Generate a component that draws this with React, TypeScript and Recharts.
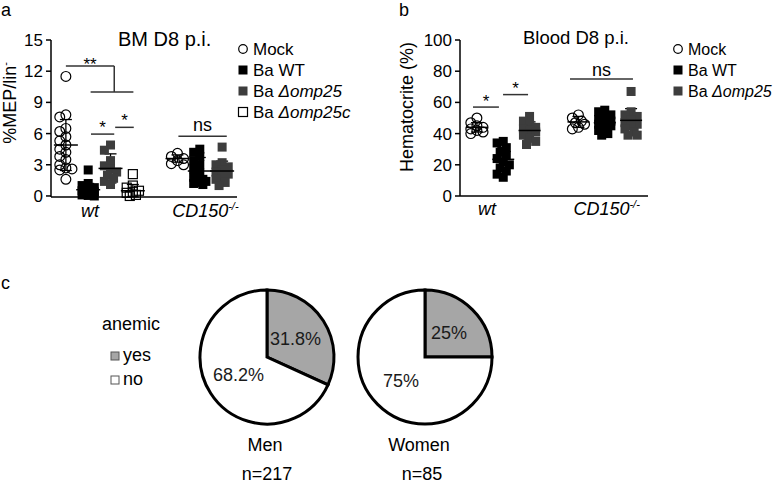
import React from "react";
import {
  ScatterChart,
  Scatter,
  XAxis,
  YAxis,
  ErrorBar,
  ReferenceLine,
  PieChart,
  Pie,
  Cell,
} from "recharts";

const FONT = '"Liberation Sans", Arial, Helvetica, sans-serif';
const INK = "#000";
const DARK = "#3d3d3d";
const BAR = "#333";
const PIE_GREY = "#a6a6a6";

type Kind = "mock" | "wt" | "d25" | "d25c";

// ---------- a: BM D8 p.i. (%MEP/lin-) ----------
const bmTicks = [0, 3, 6, 9, 12, 15];
const bmWtMock = [11.5, 7.8, 7.6, 6.5, 6.2, 5.7, 5.3, 4.9, 4.5, 4.2, 3.8, 3.5, 3.0, 2.7, 2.6, 2.5, 1.6];
const bmWtBaWT = [2.5, 1.2, 1.0, 0.8, 0.6, 0.5, 0.4, 0.3, 0.2, 0.1, 0.05, 0.0];
const bmWtD25 = [4.9, 4.4, 3.4, 2.9, 2.6, 2.3, 2.0, 1.7, 1.4, 1.1];
const bmWtD25c = [2.1, 1.0, 0.8, 0.5, 0.4, 0.3, 0.1, 0.0];
const bmKoMock = [4.1, 3.8, 3.6, 3.4, 3.1, 3.0];
const bmKoBaWT = [4.5, 4.2, 3.8, 3.4, 3.0, 2.6, 2.2, 1.8, 1.6, 1.5, 1.4, 1.3, 1.2, 1.1];
const bmKoD25 = [4.7, 3.2, 3.0, 2.8, 2.5, 2.3, 2.1, 1.9, 1.6, 1.3, 1.0];
const bmMeans = [4.9, 0.6, 2.65, 0.5, 3.6, 2.4, 2.4];
const bmSd = [2.45, 0.6, 1.4, 0.6, 0.35, 1.3, 0.95];
const bmSlots = [0.8, 2.0, 3.2, 4.4, 6.8, 8.0, 9.2];
const bmKinds: Kind[] = ["mock", "wt", "d25", "d25c", "mock", "wt", "d25"];
const bmGenoTicks = [2.1, 8.3];
const bmBars = [
  { x1: 0.8, x2: 3.4, y: 12.5, mark: "**" },
  { x1: 2.13, x2: 4.43, y: 10, mark: "" },
  { x1: 2.15, x2: 3.4, y: 5.95, mark: "*" },
  { x1: 3.45, x2: 4.45, y: 6.6, mark: "*" },
  { x1: 6.85, x2: 9.45, y: 5.75, mark: "ns" },
];
const bmDrops = [{ x: 3.4, y1: 12.5, y2: 10 }];

// ---------- b: Blood D8 p.i. (Hematocrite) ----------
const hctTicks = [0, 20, 40, 60, 80, 100];
const hctWtMock = [50, 47, 45, 44, 43, 42, 41, 40];
const hctWtBaWT = [35, 34, 31, 28, 26, 24, 22, 20, 18, 16, 14, 12];
const hctWtD25 = [51, 48, 46, 44, 43, 42, 41, 39, 37, 35, 33];
const hctKoMock = [52, 50, 48, 47, 46, 44, 43];
const hctKoBaWT = [55, 54, 52, 50, 49, 48, 47, 46, 45, 44, 42, 40, 39];
const hctKoD25 = [67, 54, 52, 51, 49, 47, 46, 45, 43, 41, 39, 39];
const hctMeans = [44, 23.5, 42, 47.5, 47, 48.5];
const hctSd = [3, 7.5, 5.5, 3.5, 5, 7.5];
const hctSlots = [0.9, 2.3, 3.7, 6.3, 7.7, 9.1];
const hctKinds: Kind[] = ["mock", "wt", "d25", "mock", "wt", "d25"];
const hctGenoTicks = [1.44, 7.8];
const hctBars = [
  { x1: 0.69, x2: 2.07, y: 57, mark: "*" },
  { x1: 2.29, x2: 3.62, y: 65, mark: "*" },
  { x1: 5.85, x2: 9.2, y: 75, mark: "ns" },
];

// ---------- c: anemic proportion ----------
const pieGroups = ["Men", "Women"];
const pieCounts = ["n=217", "n=85"];
const pieYes = [31.8, 25];
const pieNo = [68.2, 75];

const genoLabels = [
  { main: "wt", sup: "" },
  { main: "CD150", sup: "-/-" },
];

// layout (pixels)
const A = { left: 0, top: 0, w: 260, h: 232, mTop: 40, mRight: 23, mBottom: 5, yW: 51, xH: 30 };
const B = { left: 400, top: 0, w: 270, h: 232, mTop: 40, mRight: 22, mBottom: 6, yW: 60, xH: 30 };

function swarm(values: number[], slot: number, pxX: number, pxY: number, step: number, gap: number) {
  const placed: [number, number][] = [];
  const order = [0, -1, 1, -2, 2];
  return values.map((v) => {
    const py = v * pxY;
    let best = 0;
    let bestD = -1;
    for (const k of order) {
      const px = k * step;
      const d = placed.reduce((m, [qx, qy]) => Math.min(m, Math.hypot(qx - px, qy - py)), Infinity);
      if (d >= gap) {
        best = px;
        break;
      }
      if (d > bestD) {
        bestD = d;
        best = px;
      }
    }
    placed.push([best, py]);
    return { x: slot + best / pxX, y: v };
  });
}

function marker(kind: Kind, size: number) {
  return (props: any) => {
    const { cx, cy } = props;
    if (cx == null || cy == null) return <g />;
    const h = size / 2;
    if (kind === "mock")
      return <circle cx={cx} cy={cy} r={h + 0.4} fill="none" stroke={INK} strokeWidth={1.2} />;
    if (kind === "d25c")
      return <rect x={cx - h} y={cy - h} width={size} height={size} fill="none" stroke={INK} strokeWidth={1.2} />;
    return <rect x={cx - h} y={cy - h} width={size} height={size} fill={kind === "wt" ? "#000" : DARK} />;
  };
}

function meanLine(width: number) {
  return (props: any) => {
    const { cx, cy } = props;
    if (cx == null || cy == null) return <g />;
    return <line x1={cx - width / 2} x2={cx + width / 2} y1={cy} y2={cy} stroke={INK} strokeWidth={1.5} />;
  };
}

function GenoTick(props: any) {
  const { x, y, payload, ticks, dy } = props;
  const lab = genoLabels[ticks.indexOf(payload.value)];
  if (!lab) return null;
  return (
    <text x={x} y={y} dy={dy} textAnchor="middle" fontStyle="italic" fontSize={18} fill={INK} fontFamily={FONT}>
      {lab.main}
      {lab.sup ? (
        <tspan dy={-7} fontSize={11}>
          {lab.sup}
        </tspan>
      ) : null}
    </text>
  );
}

function DotPanel({
  box,
  series,
  slots,
  kinds,
  means,
  sd,
  yMax,
  yTicks,
  genoTicks,
  bars,
  drops,
  size,
  meanW,
  tickDy,
  barLabelOffset,
}: {
  box: typeof A;
  series: number[][];
  slots: number[];
  kinds: Kind[];
  means: number[];
  sd: number[];
  yMax: number;
  yTicks: number[];
  genoTicks: number[];
  bars: { x1: number; x2: number; y: number; mark: string }[];
  drops: { x: number; y1: number; y2: number }[];
  size: number;
  meanW: number;
  tickDy: number;
  barLabelOffset: Record<string, number>;
}) {
  const plotW = box.w - box.yW - box.mRight;
  const plotH = box.h - box.mTop - box.mBottom - box.xH;
  const pxX = plotW / 10;
  const pxY = plotH / yMax;
  const meanData = slots.map((s, i) => ({ x: s, y: means[i], sd: sd[i] }));
  return (
    <div style={{ position: "absolute", left: box.left, top: box.top }}>
      <ScatterChart
        width={box.w}
        height={box.h}
        margin={{ top: box.mTop, right: box.mRight, bottom: box.mBottom, left: 0 }}
      >
        <XAxis
          type="number"
          dataKey="x"
          domain={[0, 10]}
          ticks={genoTicks}
          interval={0}
          allowDataOverflow
          height={box.xH}
          tickSize={0}
          tickMargin={0}
          axisLine={{ stroke: INK, strokeWidth: 1.5 }}
          tickLine={false}
          tick={<GenoTick ticks={genoTicks} dy={tickDy} />}
        />
        <YAxis
          type="number"
          dataKey="y"
          domain={[0, yMax]}
          ticks={yTicks}
          interval={0}
          width={box.yW}
          tickSize={5}
          tickMargin={3}
          axisLine={{ stroke: INK, strokeWidth: 1.5 }}
          tickLine={{ stroke: INK, strokeWidth: 1.5 }}
          tick={{ fontSize: 17, fill: INK, fontFamily: FONT }}
        />
        {bars.map((b, i) => (
          <ReferenceLine
            key={`bar-${i}`}
            segment={[
              { x: b.x1, y: b.y },
              { x: b.x2, y: b.y },
            ]}
            stroke={BAR}
            strokeWidth={1.5}
            ifOverflow="visible"
            label={
              b.mark
                ? {
                    value: b.mark,
                    position: "top",
                    offset: barLabelOffset[b.mark],
                    fontSize: b.mark === "ns" ? 18 : 17,
                    fill: INK,
                    fontFamily: FONT,
                  }
                : undefined
            }
          />
        ))}
        {drops.map((d, i) => (
          <ReferenceLine
            key={`drop-${i}`}
            segment={[
              { x: d.x, y: d.y1 },
              { x: d.x, y: d.y2 },
            ]}
            stroke={BAR}
            strokeWidth={1.5}
            ifOverflow="visible"
          />
        ))}
        {series.map((vals, i) => (
          <Scatter
            key={`s-${i}`}
            data={swarm(vals, slots[i], pxX, pxY, size * 0.34, size * 0.72)}
            shape={marker(kinds[i], size)}
            isAnimationActive={false}
          />
        ))}
        <Scatter data={meanData} shape={meanLine(meanW)} isAnimationActive={false}>
          <ErrorBar dataKey="sd" direction="y" width={6} stroke={INK} strokeWidth={1.3} />
        </Scatter>
      </ScatterChart>
    </div>
  );
}

function pieLabel(p: any) {
  const r = 34;
  const a = (-p.midAngle * Math.PI) / 180;
  return (
    <text
      x={p.cx + r * Math.cos(a)}
      y={p.cy + r * Math.sin(a)}
      textAnchor="middle"
      dominantBaseline="central"
      fontSize={18}
      fill="#1a1a1a"
      fontFamily={FONT}
    >
      {`${p.value}%`}
    </text>
  );
}

function LegendSym({ kind, x, y }: { kind: Kind; x: number; y: number }) {
  if (kind === "mock") return <circle cx={x} cy={y} r={4.3} fill="#fff" stroke={INK} strokeWidth={1.2} />;
  if (kind === "d25c") return <rect x={x - 4.5} y={y - 4.5} width={9} height={9} fill="#fff" stroke={INK} strokeWidth={1.2} />;
  return <rect x={x - 4.5} y={y - 4.5} width={9} height={9} fill={kind === "wt" ? "#000" : DARK} />;
}

const legendNames: { kind: Kind; plain: string; ital: string }[] = [
  { kind: "mock", plain: "Mock", ital: "" },
  { kind: "wt", plain: "Ba WT", ital: "" },
  { kind: "d25", plain: "Ba ", ital: "Δomp25" },
  { kind: "d25c", plain: "Ba ", ital: "Δomp25c" },
];

function Legend4({ x, ys, count, fontSize }: { x: number; ys: number[]; count: number; fontSize: number }) {
  return (
    <g>
      {legendNames.slice(0, count).map((l, i) => (
        <g key={l.kind}>
          <LegendSym kind={l.kind} x={x} y={ys[i]} />
          <text x={x + 10} y={ys[i] + 6} fontSize={fontSize} fill={INK} fontFamily={FONT}>
            {l.plain}
            {l.ital ? <tspan fontStyle="italic">{l.ital}</tspan> : null}
          </text>
        </g>
      ))}
    </g>
  );
}

export default function App() {
  const pieCx = [267, 425];
  return (
    <div style={{ position: "absolute", left: 0, top: 0, width: 777, height: 486, background: "#fff", fontFamily: FONT }}>
      <DotPanel
        box={A}
        series={[bmWtMock, bmWtBaWT, bmWtD25, bmWtD25c, bmKoMock, bmKoBaWT, bmKoD25]}
        slots={bmSlots}
        kinds={bmKinds}
        means={bmMeans}
        sd={bmSd}
        yMax={15}
        yTicks={bmTicks}
        genoTicks={bmGenoTicks}
        bars={bmBars}
        drops={bmDrops}
        size={9}
        meanW={24}
        tickDy={20}
        barLabelOffset={{ "**": -4, "*": 1, ns: 5 }}
      />
      <DotPanel
        box={B}
        series={[hctWtMock, hctWtBaWT, hctWtD25, hctKoMock, hctKoBaWT, hctKoD25]}
        slots={hctSlots}
        kinds={hctKinds}
        means={hctMeans}
        sd={hctSd}
        yMax={100}
        yTicks={hctTicks}
        genoTicks={hctGenoTicks}
        bars={hctBars}
        drops={[]}
        size={9}
        meanW={22}
        tickDy={19}
        barLabelOffset={{ "*": 0.5, ns: 3.5 }}
      />
      <div style={{ position: "absolute", left: 0, top: 270 }}>
        <PieChart width={777} height={216} margin={{ top: 0, right: 0, bottom: 0, left: 0 }}>
          {pieGroups.map((g, i) => (
            <Pie
              key={g}
              data={[
                { name: "yes", value: pieYes[i] },
                { name: "no", value: pieNo[i] },
              ]}
              dataKey="value"
              cx={pieCx[i]}
              cy={87}
              outerRadius={67}
              startAngle={90}
              endAngle={-270}
              label={pieLabel}
              labelLine={false}
              isAnimationActive={false}
            >
              <Cell fill={PIE_GREY} stroke="#000" strokeWidth={3} />
              <Cell fill="#fff" stroke="#000" strokeWidth={3} />
            </Pie>
          ))}
        </PieChart>
      </div>
      <svg
        width={777}
        height={486}
        style={{ position: "absolute", left: 0, top: 0, pointerEvents: "none" }}
        fontFamily={FONT}
      >
        <text x={1} y={16} fontSize={18} fill={INK}>a</text>
        <text x={399} y={16} fontSize={18} fill={INK}>b</text>
        <text x={1} y={289} fontSize={18} fill={INK}>c</text>
        <text x={118} y={46} fontSize={20} fill={INK}>BM D8 p.i.</text>
        <text x={523} y={44} fontSize={18.5} fill={INK}>Blood D8 p.i.</text>
        <text transform="translate(16,103) rotate(-90)" textAnchor="middle" fontSize={18} fill={INK}>
          %MEP/lin
          <tspan dy={-7} fontSize={11}>-</tspan>
        </text>
        <text transform="translate(413,107) rotate(-90)" textAnchor="middle" fontSize={18} fill={INK}>
          Hematocrite (%)
        </text>
        <Legend4 x={243} ys={[49, 70, 91, 112]} count={4} fontSize={17} />
        <Legend4 x={678} ys={[49, 70, 91]} count={3} fontSize={16} />
        <text x={102} y={330} fontSize={18} fill={INK}>anemic</text>
        <rect x={111} y={352} width={8} height={8} fill={PIE_GREY} stroke="#555" strokeWidth={1} />
        <text x={123} y={361} fontSize={18} fill={INK}>yes</text>
        <rect x={111} y={376} width={8} height={8} fill="#fff" stroke="#555" strokeWidth={1} />
        <text x={123} y={385} fontSize={18} fill={INK}>no</text>
        {pieGroups.map((g, i) => (
          <g key={g}>
            <text x={pieCx[i] - (i === 0 ? 2 : 6)} y={451} textAnchor="middle" fontSize={18} fill={INK}>
              {g}
            </text>
            <text x={pieCx[i] - (i === 0 ? 0 : 3)} y={480} textAnchor="middle" fontSize={18} fill={INK}>
              {pieCounts[i]}
            </text>
          </g>
        ))}
      </svg>
    </div>
  );
}
